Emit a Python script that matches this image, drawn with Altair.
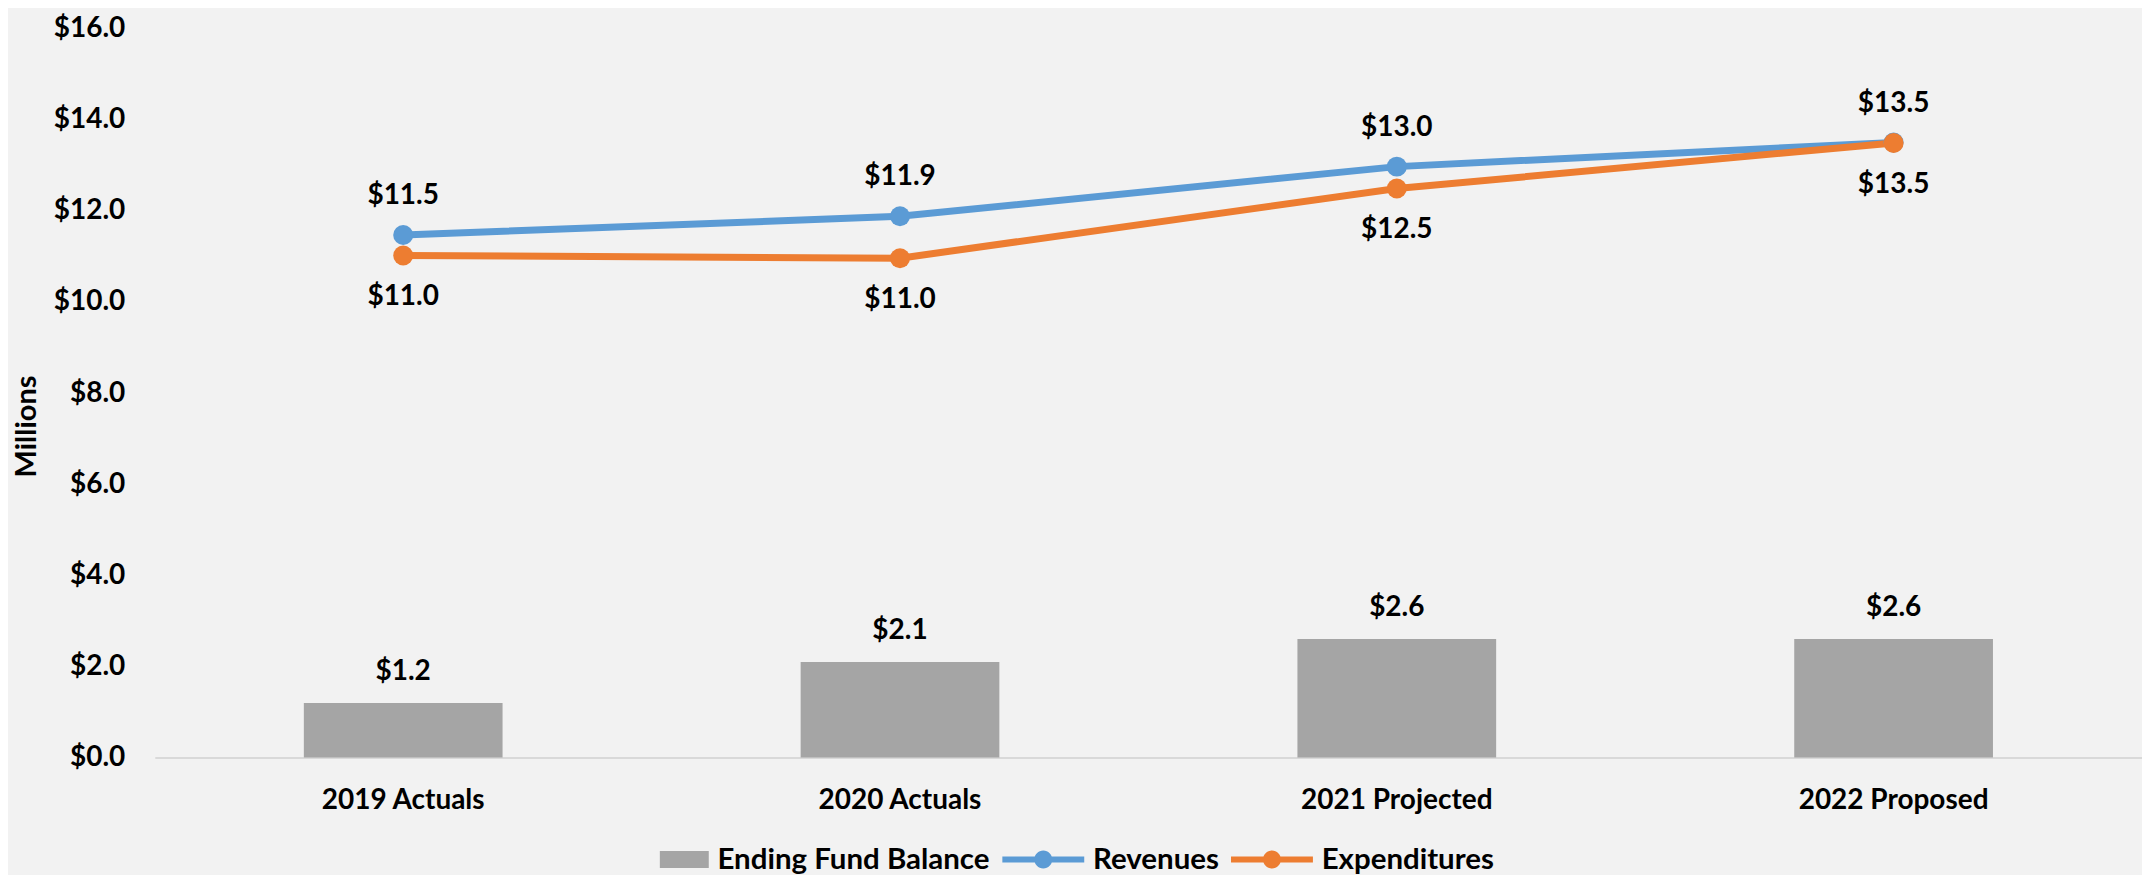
import altair as alt
import pandas as pd

categories = ["2019 Actuals", "2020 Actuals", "2021 Projected", "2022 Proposed"]
ending_fund_balance = [1.2, 2.1, 2.6, 2.6]
revenues = [11.47, 11.88, 12.97, 13.5]
expenditures = [11.02, 10.96, 12.49, 13.49]
series_names = ["Ending Fund Balance", "Revenues", "Expenditures"]
series_colors = ["#a5a5a5", "#5b9bd5", "#ed7d31"]
y_ticks = [0, 2, 4, 6, 8, 10, 12, 14, 16]

rows = []
for name, vals in zip(series_names, [ending_fund_balance, revenues, expenditures]):
    for c, v in zip(categories, vals):
        rows.append({"category": c, "series": name, "value": v})
df = pd.DataFrame(rows)

FONT = "Lato"
TXT = "#000000"

x = alt.X(
    "category:N", sort=categories, title=None,
    scale=alt.Scale(paddingInner=0.6, paddingOuter=0.3),
    axis=alt.Axis(labelAngle=0, labelFont=FONT, labelFontSize=28, labelFontWeight="bold",
                  labelColor=TXT, labelPadding=29, ticks=False, domainColor="#d9d9d9",
                  domainWidth=2, grid=False, labelLimit=400),
)
y = alt.Y(
    "value:Q", title="Millions",
    scale=alt.Scale(domain=[0, 16], nice=False, zero=True),
    axis=alt.Axis(values=y_ticks, format="$.1f", labelFont=FONT, labelFontSize=28,
                  labelFontWeight="bold", labelColor=TXT, labelPadding=30, ticks=False,
                  domain=False, grid=False, titleFont=FONT, titleFontSize=29,
                  titleFontWeight="bold", titleColor=TXT, titlePadding=12, titleY=398),
)
color_scale = alt.Scale(domain=series_names, range=series_colors)

rect_path = "M2.3,-0.85H7.2V0.85H2.3Z"
lc_path = "M-1,-0.3H7.2V0.3H-1Z M4.0,0 A0.9,0.9 0 1,1 2.2,0 A0.9,0.9 0 1,1 4.0,0Z"
shape_scale = alt.Scale(domain=series_names, range=[rect_path, lc_path, lc_path])

leg = alt.Legend(
    orient="none", legendX=468, legendY=817, direction="horizontal", title=None,
    labelFont=FONT, labelFontSize=29.5, labelFontWeight="bold", labelColor=TXT,
    labelLimit=500, symbolSize=400, labelOffset=66, columnPadding=7,
    symbolStrokeWidth=0, symbolOpacity=1,
)

base = alt.Chart(df)
label_expr = "'$' + format(datum.value, '.1f')"
text_kw = dict(font=FONT, fontSize=28, fontWeight="bold", color=TXT, baseline="middle")

legend_layer = base.transform_filter("false").mark_point(filled=True, opacity=1, size=400).encode(
    color=alt.Color("series:N", scale=color_scale, legend=leg),
    shape=alt.Shape("series:N", scale=shape_scale, legend=leg),
)

bars = base.transform_filter(alt.datum.series == "Ending Fund Balance").mark_bar(
    color="#a5a5a5").encode(x=x, y=y)

lines = base.transform_filter(alt.datum.series != "Ending Fund Balance").mark_line(
    strokeWidth=7).encode(x=x, y=y, color=alt.Color("series:N", scale=color_scale, legend=None))

points = base.transform_filter(alt.datum.series != "Ending Fund Balance").mark_point(
    filled=True, size=400, opacity=1).encode(
    x=x, y=y, color=alt.Color("series:N", scale=color_scale, legend=None))

bar_labels = base.transform_filter(alt.datum.series == "Ending Fund Balance").transform_calculate(
    label=label_expr).mark_text(dy=-31, **text_kw).encode(x=x, y=y, text="label:N")

rev_labels = base.transform_filter(alt.datum.series == "Revenues").transform_calculate(
    label=label_expr).mark_text(dy=-39, **text_kw).encode(x=x, y=y, text="label:N")

exp_labels = base.transform_filter(alt.datum.series == "Expenditures").transform_calculate(
    label=label_expr).mark_text(dy=42, **text_kw).encode(x=x, y=y, text="label:N")

chart = alt.layer(legend_layer, bars, lines, points, bar_labels, rev_labels, exp_labels).properties(
    width=1990, height=730, background="#f2f2f2",
    padding={"left": 4, "top": 6, "right": 0, "bottom": 0},
).configure_view(stroke=None)

chart.save("out.html", embed_options={"renderer": "svg", "actions": False})
